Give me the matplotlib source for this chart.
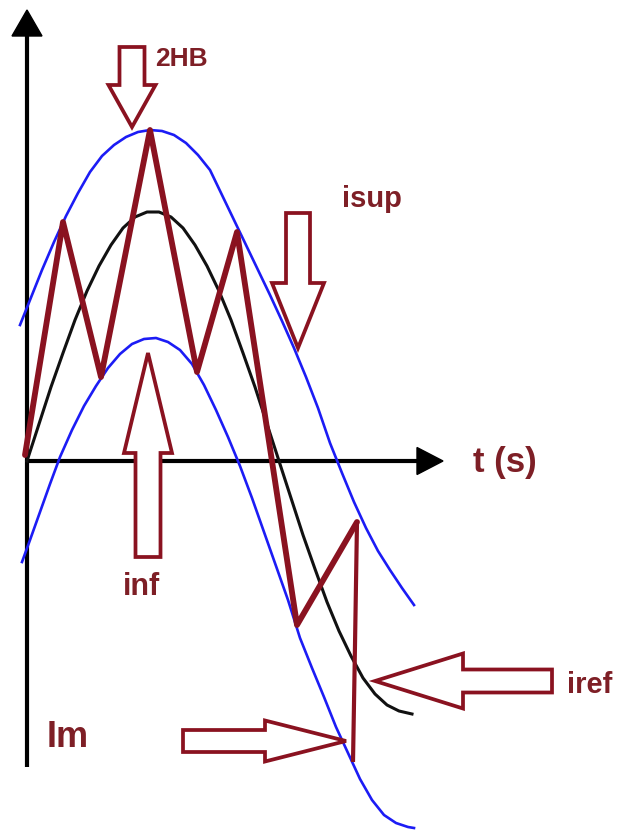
import numpy as np
import matplotlib
matplotlib.use("Agg")
import matplotlib.pyplot as plt
from matplotlib.patches import Polygon

plt.rcParams.update({
    "font.family": ["Liberation Sans", "DejaVu Sans"],
    "font.weight": "bold",
})

# values, in picture pixels (x right, y down)
iref_x = [27, 39, 51, 63, 75, 87, 99, 111, 123, 135, 147, 159, 171, 183, 195, 207,
          219, 231, 243, 255, 267, 279, 291, 303, 315, 327, 339, 351, 363, 375,
          387, 399, 412]
iref_y = [461, 424, 387, 353, 320, 291, 266, 245, 228, 217, 212, 212, 217, 228, 245, 266,
          291, 320, 353, 387, 424, 461, 498, 535, 569, 602, 631, 656, 678, 694,
          705, 711, 714]

isup_x = [20, 30, 42, 54, 66, 78, 90, 102, 114, 126, 138, 150, 162, 174, 186, 198,
          210, 222, 234, 246, 258, 270, 282, 294, 306, 318, 330, 342, 354, 366,
          378, 390, 402, 414]
isup_y = [325, 300, 270, 242, 216, 193, 172, 156, 145, 137, 132, 130, 131, 135, 143, 155,
          170, 195, 220, 245, 270, 295, 321, 348, 377, 408, 443, 473, 502, 528,
          551, 570, 588, 605]

inf_x = [22, 30, 40, 50, 60, 72, 84, 96, 108, 120, 132, 144, 156, 168, 180, 192,
         204, 216, 228, 240, 252, 264, 276, 288, 300, 312, 324, 336, 348, 360,
         372, 384, 396, 408, 414]
inf_y = [562, 540, 512, 484, 457, 430, 406, 386, 368, 354, 344, 339, 338, 342, 350, 364,
         385, 410, 437, 466, 498, 532, 566, 600, 638, 668, 697, 727, 753, 779,
         800, 815, 823, 827, 828]

# hysteresis current (zigzag vertices, then the final drop)
i_x = [25, 63, 101, 150, 197, 237, 297, 357, 355, 353]
i_y = [455, 222, 377, 130, 372, 232, 625, 522, 645, 762]

labels = ["2HB", "isup", "t (s)", "inf", "iref", "Im"]

DARK_RED = "#8a1220"
TEXT_RED = "#7e1f26"
BLUE = "#1c1cf5"


def block_arrow(ax, tip, angle, length, shaft_w, head_w, head_len):
    pts = np.array([[0, 0], [-head_len, head_w / 2], [-head_len, shaft_w / 2],
                    [-length, shaft_w / 2], [-length, -shaft_w / 2],
                    [-head_len, -shaft_w / 2], [-head_len, -head_w / 2]])
    a = np.deg2rad(angle)
    rot = np.array([[np.cos(a), -np.sin(a)], [np.sin(a), np.cos(a)]])
    pts = pts @ rot.T + np.array(tip)
    ax.add_patch(Polygon(pts, closed=True, facecolor="white", edgecolor=DARK_RED,
                         lw=2.7, joinstyle="miter", zorder=6))


def axis_arrow(ax, start, tip, head_len, head_w):
    start = np.array(start, float)
    tip = np.array(tip, float)
    d = (tip - start) / np.linalg.norm(tip - start)
    n = np.array([-d[1], d[0]])
    base = tip - d * head_len
    ax.plot([start[0], base[0]], [start[1], base[1]], color="black", lw=3.0,
            solid_capstyle="butt", zorder=2)
    ax.add_patch(Polygon([tip, base + n * head_w / 2, base - n * head_w / 2],
                         closed=True, facecolor="black", edgecolor="black", lw=1, zorder=2))


fig = plt.figure(figsize=(6.21, 8.33), dpi=100)
ax = fig.add_axes([0, 0, 1, 1])
ax.set_xlim(0, 621)
ax.set_ylim(833, 0)
ax.axis("off")

# axes of the sketch
axis_arrow(ax, (27, 767), (27, 10), 26, 30)
axis_arrow(ax, (27, 461), (443, 461), 26, 27)

# reference and band
ax.plot(iref_x, iref_y, color="#111111", lw=2.2, zorder=3)
ax.plot(isup_x, isup_y, color=BLUE, lw=1.9, zorder=3)
ax.plot(inf_x, inf_y, color=BLUE, lw=1.9, zorder=3)

# current
ax.plot(i_x[:8], i_y[:8], color=DARK_RED, lw=4.2, solid_joinstyle="round",
        solid_capstyle="round", zorder=4)
ax.plot(i_x[7:], i_y[7:], color=DARK_RED, lw=3.0, solid_capstyle="butt", zorder=4)

# annotation arrows
block_arrow(ax, (132, 127), 90, 80, 25, 47, 42)
block_arrow(ax, (298, 348), 90, 135, 24, 52, 65)
block_arrow(ax, (148, 353), -90, 204, 25, 48, 100)
block_arrow(ax, (375, 681), 180, 177, 23, 55, 88)
block_arrow(ax, (346, 741), 0, 163, 22, 41, 81)

txt = dict(color=TEXT_RED, fontweight="bold", ha="left", va="baseline", zorder=7)
ax.text(155, 66, labels[0], fontsize=19, **txt)
ax.text(342, 207, labels[1], fontsize=21, **txt)
ax.text(473, 472, labels[2], fontsize=25, **txt)
ax.text(123, 595, labels[3], fontsize=22, **txt)
ax.text(567, 693, labels[4], fontsize=21, **txt)
ax.text(47, 747, labels[5], fontsize=26, **txt)

fig.savefig("out.png", dpi=100, facecolor="white")
